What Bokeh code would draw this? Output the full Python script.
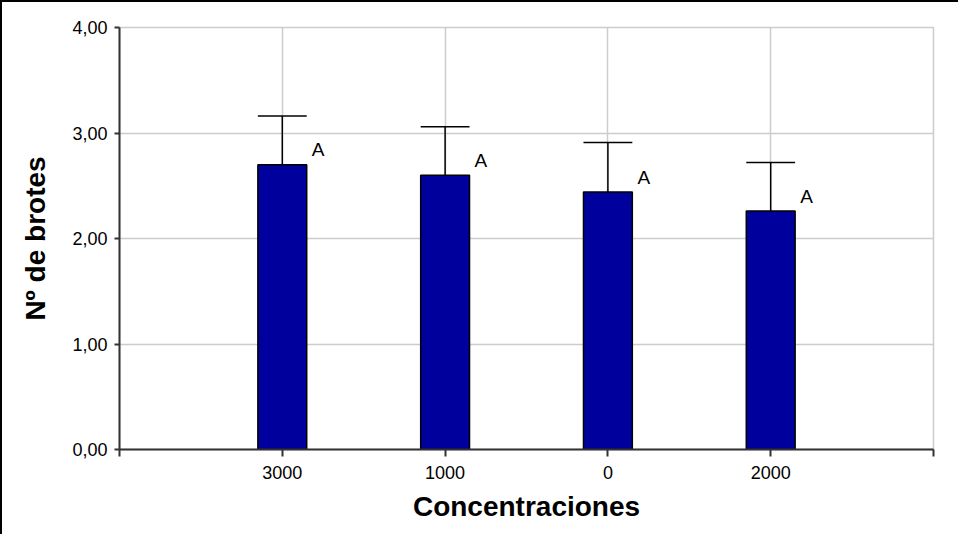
from bokeh.plotting import figure
from bokeh.models import FixedTicker, ColumnDataSource, InlineStyleSheet, Range1d
from bokeh.embed import file_html
from bokeh.resources import INLINE
from bokeh.core.properties import value

# ---- data ----
categories = ["3000", "1000", "0", "2000"]
means = [2.70, 2.60, 2.44, 2.26]
upper = [3.16, 3.06, 2.91, 2.72]
letters = ["A", "A", "A", "A"]
y_ticks = [0, 1, 2, 3, 4]
y_tick_labels = ["0,00", "1,00", "2,00", "3,00", "4,00"]

positions = list(range(1, len(categories) + 1))
BAR_W = 0.3
LETTER_DX = 0.22
LETTER_DY = 0.14

src = ColumnDataSource(dict(
    x=positions,
    top=means,
    up=upper,
    cap_l=[x - BAR_W / 2 for x in positions],
    cap_r=[x + BAR_W / 2 for x in positions],
    lx=[x + LETTER_DX for x in positions],
    ly=[m + LETTER_DY for m in means],
    lab=letters,
))

border_css = InlineStyleSheet(css=":host { border-left: 2px solid black; border-top: 2px solid black; }")

p = figure(width=958, height=534, output_backend="svg", toolbar_location=None,
           x_range=Range1d(0, len(categories) + 1), y_range=Range1d(0, 4),
           min_border_left=117, min_border_right=27, min_border_top=25, min_border_bottom=87,
           stylesheets=[border_css])

p.background_fill_color = "white"
p.border_fill_color = "white"
p.outline_line_color = "#cccccc"
p.outline_line_width = 1.5

# grids
p.xgrid.grid_line_color = "#cccccc"
p.xgrid.grid_line_width = 1.5
p.ygrid.grid_line_color = "#cccccc"
p.ygrid.grid_line_width = 1.5

# bars
p.vbar(x="x", top="top", bottom=0, width=BAR_W, source=src,
       fill_color="#00009C", line_color="black", line_width=1.5)

# error bars (upper only)
p.segment(x0="x", y0="top", x1="x", y1="up", source=src, line_color="black", line_width=1.5)
p.segment(x0="cap_l", y0="up", x1="cap_r", y1="up", source=src, line_color="black", line_width=1.5)

# letters
p.text(x="lx", y="ly", text="lab", source=src, text_font=value("Liberation Sans"),
       text_font_size="19px", text_align="center", text_baseline="middle", text_color="black")

# axes
xt = list(range(0, len(categories) + 2))
p.xaxis.ticker = FixedTicker(ticks=xt)
overrides = {0: "", len(categories) + 1: ""}
for pos, c in zip(positions, categories):
    overrides[pos] = c
p.xaxis.major_label_overrides = overrides
p.xgrid.ticker = FixedTicker(ticks=xt[1:])

p.yaxis.ticker = FixedTicker(ticks=y_ticks)
p.yaxis.major_label_overrides = {t: l for t, l in zip(y_ticks, y_tick_labels)}

for ax in (p.xaxis, p.yaxis):
    ax.axis_line_color = "#333333"
    ax.axis_line_width = 2
    ax.major_tick_line_color = "#333333"
    ax.major_tick_line_width = 2
    ax.major_tick_in = 0
    ax.minor_tick_line_color = None
    ax.major_label_text_font = "Liberation Sans"
    ax.major_label_text_font_size = "18px"
    ax.major_label_text_color = "black"
    ax.axis_label_text_font = "Liberation Sans"
    ax.axis_label_text_font_size = "28px"
    ax.axis_label_text_font_style = "bold"
    ax.axis_label_text_color = "black"

p.xaxis.major_tick_out = 7
p.yaxis.major_tick_out = 5
p.xaxis.major_label_standoff = 9
p.yaxis.major_label_standoff = 7
p.xaxis.axis_label = "Concentraciones"
p.yaxis.axis_label = "Nº de brotes"
p.xaxis.axis_label_standoff = 9
p.yaxis.axis_label_standoff = 18

open("out.html", "w").write(file_html(p, INLINE))
